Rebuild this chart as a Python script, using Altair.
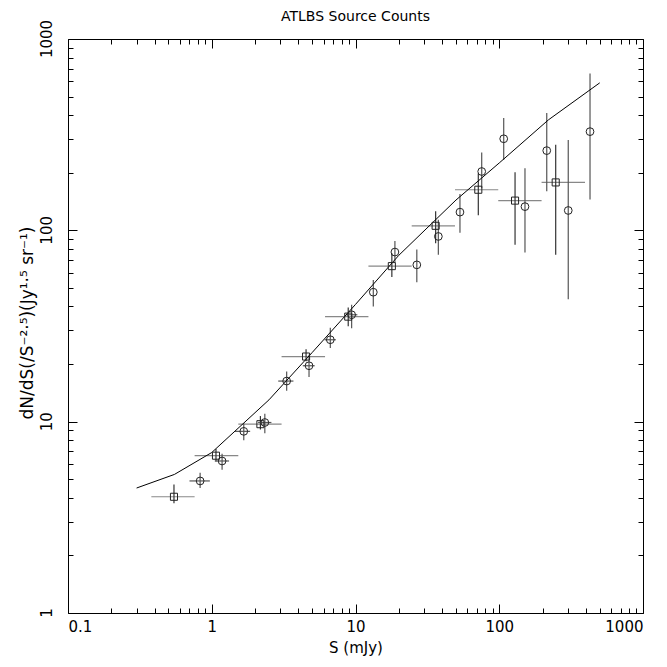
import altair as alt
import pandas as pd

# ---- data ----
# square points (binned counts)
sq_s = [0.546, 1.07, 2.18, 4.53, 8.9, 17.9, 36.1, 71.5, 128.8, 247]
sq_n = [4.05, 6.64, 9.7, 21.9, 35.4, 65, 105.6, 163, 143, 178]
sq_slo = [0.38, 0.76, 1.53, 3.06, 6.14, 12.3, 24.6, 49.2, 98.4, 197]
sq_shi = [0.76, 1.53, 3.06, 6.14, 12.3, 24.6, 49.2, 98.4, 197, 395]
sq_nlo = [3.75, 6.2, 9.1, 20.7, 31.5, 57, 85.5, 120, 84, 74.5]
sq_nhi = [4.7, 7.2, 10.7, 23.9, 39.5, 76, 126, 199, 201, 280]

# circle points
ci_s = [0.83, 1.18, 1.67, 2.34, 3.32, 4.75, 6.68, 9.4, 13.3, 18.8, 26.7, 37.7,
        53.3, 75.5, 107.4, 151, 214, 302, 428]
ci_n = [4.9, 6.23, 8.9, 9.9, 16.3, 19.6, 26.8, 36.2, 47.5, 77, 66, 92.9,
        124.5, 203, 301, 133, 261, 127, 328]
ci_nlo = [4.5, 5.6, 8.0, 8.7, 14.5, 17.1, 24.3, 30.8, 40, 68, 53.6, 74.5,
          97, 166, 234, 76.5, 160, 43.6, 145]
ci_nhi = [5.4, 6.8, 9.8, 11.0, 18.3, 22.4, 31.0, 40.8, 55, 88, 79.4, 113.5,
          155, 255, 387, 211, 410, 297, 660]
# short horizontal bars on the faint circles
cih_s = [0.83, 1.18, 1.67, 2.34, 3.32, 4.75, 6.68, 9.4]
cih_n = [4.9, 6.23, 8.9, 9.9, 16.3, 19.6, 26.8, 36.2]
cih_slo = [0.70, 1.05, 1.45, 2.1, 2.9, 4.3, 6.1, 8.6]
cih_shi = [0.97, 1.32, 1.85, 2.6, 3.7, 5.2, 7.3, 10.3]

# model curve
line_s = [0.3, 0.55, 1.0, 2.5, 5, 10, 20, 50, 100, 220, 500]
line_n = [4.5, 5.3, 6.9, 13, 23, 41, 74, 144, 225, 378, 590]

x_major = [0.1, 1, 10, 100, 1000]
x_minor = [0.2, 0.3, 0.4, 0.5, 0.6, 0.7, 0.8, 0.9,
           2, 3, 4, 5, 6, 7, 8, 9,
           20, 30, 40, 50, 60, 70, 80, 90,
           200, 300, 400, 500, 600, 700, 800, 900]
y_major = [1, 10, 100, 1000]
y_major_text = ["1", "10", "100", "1000"]
y_minor = [2, 3, 4, 5, 6, 7, 8, 9,
           20, 30, 40, 50, 60, 70, 80, 90,
           200, 300, 400, 500, 600, 700, 800, 900]
y_title = ["dN/dS(/S⁻²·⁵)(Jy¹·⁵ sr⁻¹)"]

sq = pd.DataFrame({"S": sq_s, "N": sq_n, "Slo": sq_slo, "Shi": sq_shi,
                   "Nlo": sq_nlo, "Nhi": sq_nhi})
ci = pd.DataFrame({"S": ci_s, "N": ci_n, "Nlo": ci_nlo, "Nhi": ci_nhi})
cih = pd.DataFrame({"S": cih_s, "N": cih_n, "Slo": cih_slo, "Shi": cih_shi})
ln = pd.DataFrame({"S": line_s, "N": line_n})
ylab = pd.DataFrame({"v": y_major, "t": y_major_text})
ytit = pd.DataFrame({"t": y_title})

FONT = "DejaVu Sans"
xs = alt.Scale(type="log", domain=[0.1, 1000], nice=False)
ys = alt.Scale(type="log", domain=[1, 1000], nice=False)

MAJ = 9
MIN = 5


def ax(orient, values, size, labels, title=None, **kw):
    return alt.Axis(orient=orient, values=values, tickSize=size, offset=-size,
                    domain=False, grid=False, labels=labels, title=title,
                    tickColor="black", tickWidth=1, format="~g", **kw)


def axis_layer(xaxis, yaxis):
    return alt.Chart(ln).mark_point(opacity=0).encode(
        x=alt.X("S:Q", scale=xs, axis=xaxis),
        y=alt.Y("N:Q", scale=ys, axis=yaxis),
    )


lab = dict(labelFont=FONT, labelFontSize=15, labelColor="black",
           titleFont=FONT, titleColor="black", titleFontWeight="normal")

a1 = axis_layer(
    ax("bottom", x_major, MAJ, True, "S (mJy)", labelPadding=6,
       titlePadding=6, titleFontSize=15, **lab),
    ax("left", y_major, MAJ, False),
)
a2 = axis_layer(ax("bottom", x_minor, MIN, False),
                ax("left", y_minor, MIN, False))
a3 = axis_layer(ax("top", x_major, MAJ, False),
                ax("right", y_major, MAJ, False))
a4 = axis_layer(ax("top", x_minor, MIN, False),
                ax("right", y_minor, MIN, False))

X = lambda f: alt.X(f, scale=xs, axis=None)
Y = lambda f: alt.Y(f, scale=ys, axis=None)

# rotated y tick labels and y title
ytext = alt.Chart(ylab).mark_text(angle=270, align="center", baseline="bottom",
                                  font=FONT, fontSize=15, color="black").encode(
    x=alt.value(-13), y=Y("v:Q"), text="t:N")
ytitle = alt.Chart(ytit).mark_text(angle=270, align="center", baseline="middle",
                                   font=FONT, fontSize=17, color="black").encode(
    x=alt.value(-40), y=alt.value(284), text="t:N")

sq_h = alt.Chart(sq).mark_rule(color="#888888", strokeWidth=1.2).encode(
    x=X("Slo:Q"), x2="Shi:Q", y=Y("N:Q"))
sq_v = alt.Chart(sq).mark_rule(color="#333333", strokeWidth=1.2).encode(
    x=X("S:Q"), y=Y("Nlo:Q"), y2="Nhi:Q")
ci_h = alt.Chart(cih).mark_rule(color="#555555", strokeWidth=1.2).encode(
    x=X("Slo:Q"), x2="Shi:Q", y=Y("N:Q"))
ci_v = alt.Chart(ci).mark_rule(color="#555555", strokeWidth=1.2).encode(
    x=X("S:Q"), y=Y("Nlo:Q"), y2="Nhi:Q")
sq_p = alt.Chart(sq).mark_point(shape="square", filled=False, color="#222222",
                                size=50, strokeWidth=1, opacity=1).encode(
    x=X("S:Q"), y=Y("N:Q"))
ci_p = alt.Chart(ci).mark_point(shape="circle", filled=False, color="#222222",
                                size=60, strokeWidth=1, opacity=1).encode(
    x=X("S:Q"), y=Y("N:Q"))
curve = alt.Chart(ln).mark_line(color="black", strokeWidth=1).encode(
    x=X("S:Q"), y=Y("N:Q"), order="S:Q")

chart = alt.layer(a1, a2, a3, a4, ytext, ytitle, sq_h, sq_v, ci_h, ci_v, curve,
                  sq_p, ci_p).resolve_scale(
    x="shared", y="shared").resolve_axis(x="independent", y="independent").properties(
    width=575, height=574,
    title=alt.TitleParams("ATLBS Source Counts", font=FONT, fontSize=14,
                          fontWeight="normal", color="black", offset=-4),
    background="white",
    autosize=alt.AutoSizeParams(type="none"),
    padding={"left": 60, "top": 31, "right": 16, "bottom": 46},
).configure_view(stroke="black", strokeWidth=1)

chart.save("out.html", embed_options={"renderer": "svg", "actions": False})
